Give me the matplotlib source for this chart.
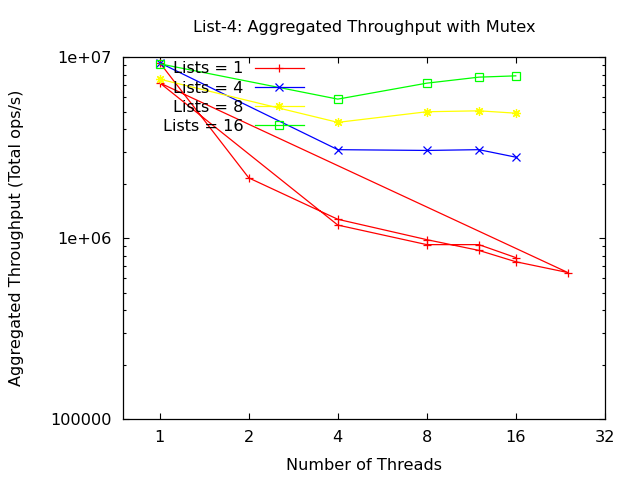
import matplotlib
matplotlib.use("Agg")
import matplotlib.pyplot as plt
from matplotlib.ticker import FixedLocator, NullLocator, LogLocator, NullFormatter

plt.rcParams["font.family"] = ["DejaVu Sans"]

# lists = 1 rows come from two runs, kept in file order (gnuplot joins them)
threads_1 = [1, 2, 4, 8, 12, 16, 24, 1, 4, 8, 12, 16]
tput_1 = [9.3e6, 2.15e6, 1.27e6, 0.98e6, 0.855e6, 0.74e6, 0.645e6,
          7.2e6, 1.18e6, 0.92e6, 0.92e6, 0.78e6]
threads = [1, 4, 8, 12, 16]
tput_4 = [9.3e6, 3.08e6, 3.05e6, 3.08e6, 2.8e6]
tput_8 = [7.55e6, 4.36e6, 4.99e6, 5.05e6, 4.9e6]
tput_16 = [9.18e6, 5.86e6, 7.18e6, 7.75e6, 7.88e6]

xticks = [1, 2, 4, 8, 16, 32]
yticks = [1e5, 1e6, 1e7]
ylabels = ["100000", "1e+06", "1e+07"]

FS = 11.6

fig = plt.figure(figsize=(6.4, 4.8), dpi=100)
ax = fig.add_axes([0.192, 0.127, 0.753, 0.754])

lw = 0.9
ms = 6.5
ax.plot(threads_1, tput_1, color="#ff0000", lw=lw, marker="+", ms=ms*0.95, mew=lw, label="Lists = 1")
ax.plot(threads, tput_4, color="#0000ff", lw=lw, marker="x", ms=ms*0.8, mew=lw, label="Lists = 4")
ax.plot(threads, tput_8, color="#ffff00", lw=lw, marker=(8, 2, 0), ms=ms, mew=lw, label="Lists = 8")
ax.plot(threads, tput_16, color="#00ff00", lw=lw, marker="s", ms=ms*0.85, mew=lw,
        mfc="none", label="Lists = 16")

ax.set_xscale("log", base=2)
ax.set_yscale("log")
ax.set_xlim(0.75, 32)
ax.set_ylim(1e5, 1e7)

ax.xaxis.set_major_locator(FixedLocator(xticks))
ax.set_xticklabels([str(t) for t in xticks])
ax.xaxis.set_minor_locator(NullLocator())
ax.yaxis.set_major_locator(FixedLocator(yticks))
ax.set_yticklabels(ylabels)
ax.yaxis.set_minor_locator(LogLocator(base=10, subs=range(2, 10)))
ax.yaxis.set_minor_formatter(NullFormatter())

ax.tick_params(which="both", direction="in", top=True, right=True, labelsize=FS, width=0.8)
ax.tick_params(which="major", length=4.5, pad=8)
ax.tick_params(which="minor", length=2.5)
for s in ax.spines.values():
    s.set_linewidth(0.9)

ax.set_xlabel("Number of Threads", fontsize=FS, labelpad=9)
ax.set_ylabel("Aggregated Throughput (Total ops/s)", fontsize=FS, labelpad=19)
ax.set_title("List-4: Aggregated Throughput with Mutex", fontsize=FS, pad=18)

ax.legend(loc="upper right", bbox_to_anchor=(0.375, 0.988), frameon=False,
          markerfirst=False, fontsize=FS, handlelength=3.0, handletextpad=0.75,
          labelspacing=0.26, borderpad=0, borderaxespad=0)

fig.savefig("out.png", dpi=100)
